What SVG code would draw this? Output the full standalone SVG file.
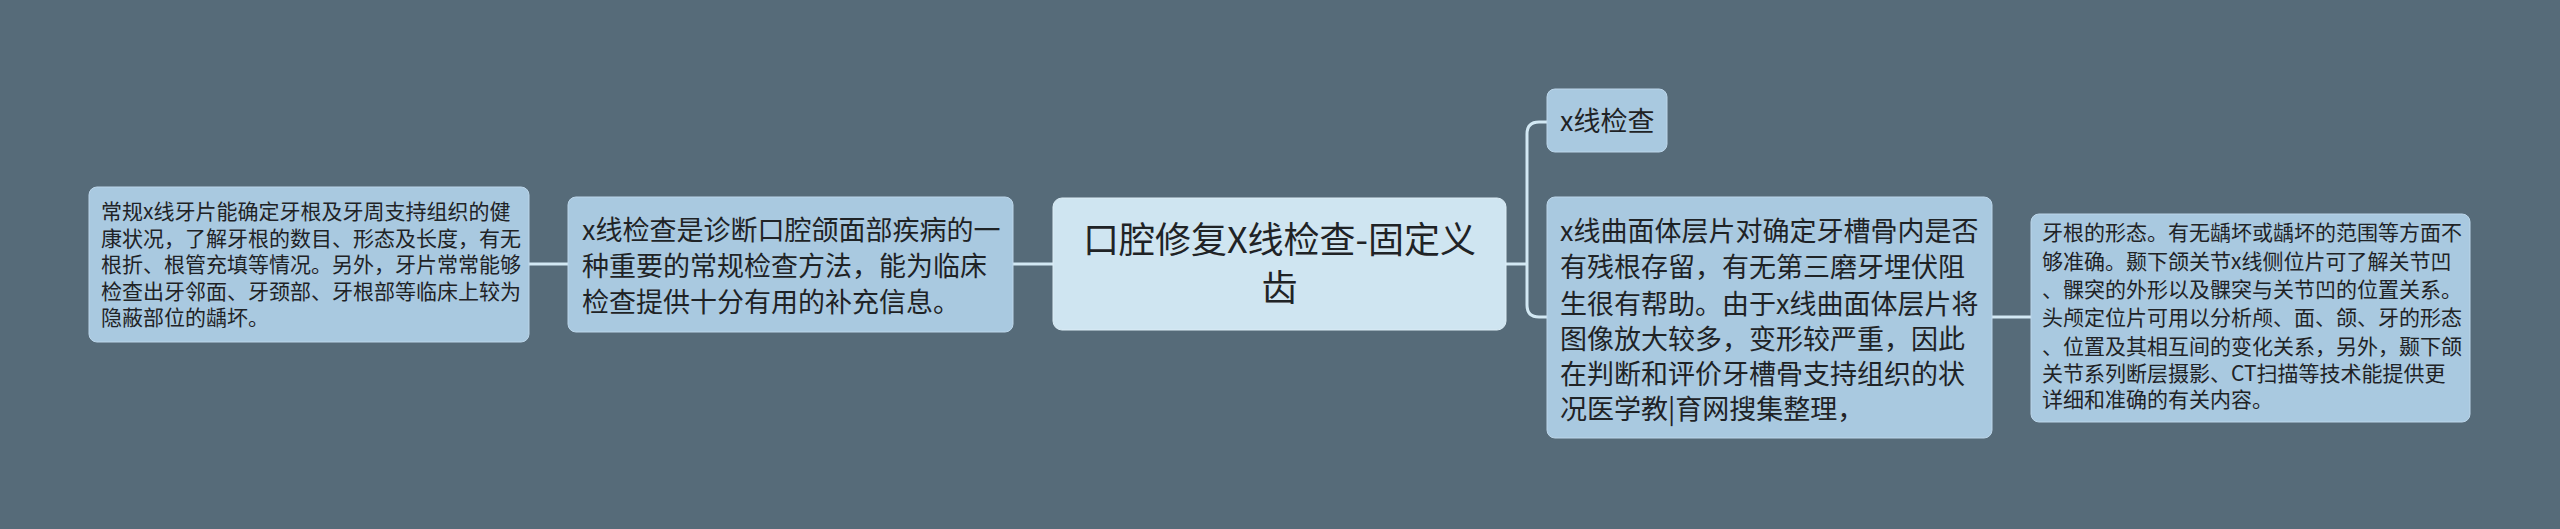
<svg xmlns="http://www.w3.org/2000/svg" width="2560" height="529" viewBox="0 0 2560 529">
<style>
.bg{fill:#566b79}
.node{fill:#a9c9e0;stroke:#bcd6ea;stroke-width:1}
.center{fill:#cfe5f1;stroke:#dcedf6;stroke-width:1}
.link{fill:none;stroke:#d2e8f3;stroke-width:3}
text{font-family:"Noto Sans CJK SC","Liberation Sans",sans-serif;fill:#1f2326}
.s21{font-size:21px}
.s27{font-size:27px}
.s36{font-size:36px}
</style>
<rect class="bg" x="0" y="0" width="2560" height="529"/>
<g id="connectors">
<path class="link" d="M529 264 H568"/>
<path class="link" d="M1013 264 H1053"/>
<path class="link" d="M1506 264 H1527"/>
<path class="link" d="M1547 122 H1539 Q1527 122 1527 134 V305 Q1527 317 1539 317 H1547"/>
<path class="link" d="M1992 317 H2031"/>
</g>
<g id="node-left">
<rect class="node" x="89" y="187" width="440" height="155" rx="8"/>
<text class="s21" x="101" y="219">常规x线牙片能确定牙根及牙周支持组织的健</text>
<text class="s21" x="101" y="245.5">康状况，了解牙根的数目、形态及长度，有无</text>
<text class="s21" x="101" y="272">根折、根管充填等情况。另外，牙片常常能够</text>
<text class="s21" x="101" y="298.5">检查出牙邻面、牙颈部、牙根部等临床上较为</text>
<text class="s21" x="101" y="325">隐蔽部位的龋坏。</text>
</g>
<g id="node-mid">
<rect class="node" x="568" y="197" width="445" height="135" rx="8"/>
<text class="s27" x="582" y="240">x线检查是诊断口腔颌面部疾病的一</text>
<text class="s27" x="582" y="276">种重要的常规检查方法，能为临床</text>
<text class="s27" x="582" y="312">检查提供十分有用的补充信息。</text>
</g>
<g id="node-center">
<rect class="center" x="1053" y="198" width="453" height="132" rx="9"/>
<text class="s36" x="1279.5" y="252.5" text-anchor="middle">口腔修复X线检查-固定义</text>
<text class="s36" x="1279.5" y="300.5" text-anchor="middle">齿</text>
</g>
<g id="node-xray">
<rect class="node" x="1547" y="89" width="120" height="63" rx="8"/>
<text class="s27" x="1560" y="131">x线检查</text>
</g>
<g id="node-pano">
<rect class="node" x="1547" y="197" width="445" height="241" rx="8"/>
<text class="s27" x="1560" y="241">x线曲面体层片对确定牙槽骨内是否</text>
<text class="s27" x="1560" y="277">有残根存留，有无第三磨牙埋伏阻</text>
<text class="s27" x="1560" y="313.5">生很有帮助。由于x线曲面体层片将</text>
<text class="s27" x="1560" y="349">图像放大较多，变形较严重，因此</text>
<text class="s27" x="1560" y="384">在判断和评价牙槽骨支持组织的状</text>
<text class="s27" x="1560" y="419">况医学教|育网搜集整理，</text>
</g>
<g id="node-right">
<rect class="node" x="2031" y="214" width="439" height="208" rx="8"/>
<text class="s21" x="2042" y="240">牙根的形态。有无龋坏或龋坏的范围等方面不</text>
<text class="s21" x="2042" y="268.5">够准确。颞下颌关节x线侧位片可了解关节凹</text>
<text class="s21" x="2042" y="297">、髁突的外形以及髁突与关节凹的位置关系。</text>
<text class="s21" x="2042" y="325">头颅定位片可用以分析颅、面、颌、牙的形态</text>
<text class="s21" x="2042" y="353.5">、位置及其相互间的变化关系，另外，颞下颌</text>
<text class="s21" x="2042" y="380.5">关节系列断层摄影、CT扫描等技术能提供更</text>
<text class="s21" x="2042" y="407">详细和准确的有关内容。</text>
</g>
</svg>
